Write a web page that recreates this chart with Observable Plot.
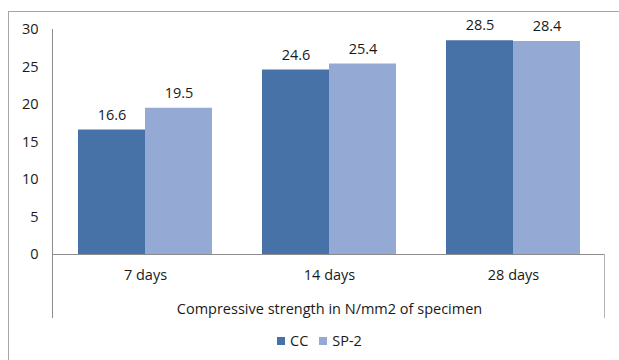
<!DOCTYPE html>
<html><head><meta charset="utf-8">
<script src="https://cdn.jsdelivr.net/npm/d3@7"></script>
<script src="https://cdn.jsdelivr.net/npm/@observablehq/plot@0.6"></script>
<style>
body{margin:0;background:#fff;width:619px;height:360px;overflow:hidden;font-family:"Open Sans",sans-serif;color:#1a1a1a;}
#wrap{position:relative;width:619px;height:360px;}
#border{position:absolute;left:8px;top:11px;width:700px;height:400px;border-left:1.5px solid #a6a6a6;border-top:1.5px solid #a6a6a6;}
#chart{position:absolute;left:0;top:0;}
#legend{position:absolute;top:331px;left:277px;display:flex;align-items:center;font-size:14.5px;line-height:20px;}
.sw{display:inline-block;width:8px;height:8px;margin-right:5px;}
.item{display:flex;align-items:center;margin-right:11px;}
</style></head>
<body><div id="wrap"><div id="border"></div><div id="chart"></div><div id="legend"></div></div>
<script>
const categories = ["7 days", "14 days", "28 days"];
const series = ["CC", "SP-2"];
const ccValues = [16.6, 24.6, 28.5];
const sp2Values = [19.5, 25.4, 28.4];
const yTicks = [0, 5, 10, 15, 20, 25, 30];
const colors = ["#4672A8", "#94A9D3"];
const xLabel = "Compressive strength in N/mm2 of specimen";

const data = categories.flatMap((c, i) => [
  {cat: c, series: series[0], value: ccValues[i]},
  {cat: c, series: series[1], value: sp2Values[i]}
]);

const W = 619, H = 330, ML = 52, MR = 14, MT = 29, MB = 76;
const plot = Plot.plot({
  width: W, height: H, marginLeft: ML, marginRight: MR, marginTop: MT, marginBottom: MB,
  style: {fontFamily: "'Open Sans', sans-serif", fontSize: "14.5px", color: "#1a1a1a", background: "transparent", overflow: "visible"},
  fx: {domain: categories, padding: 0, label: xLabel, labelAnchor: "center", labelOffset: 59, tickSize: 0, tickPadding: 15},
  x: {domain: series, paddingInner: 0, paddingOuter: 0.37, axis: null},
  y: {domain: [0, 30], ticks: yTicks, tickSize: 0, tickPadding: 15, label: null},
  color: {domain: series, range: colors},
  marks: [
    Plot.barY(data, {fx: "cat", x: "series", y: "value", fill: "series"}),
    Plot.ruleY([0], {stroke: "#8c8c8c"}),
    Plot.text(data, {fx: "cat", x: "series", y: "value", text: d => d.value.toFixed(1), dy: -15, fill: "#1a1a1a", fontSize: 14.5})
  ]
});
document.getElementById("chart").appendChild(plot);

// axis frame lines derived from scale ranges
const ys = plot.scale("y");
const svg = d3.select(plot);
const yBase = ys.range[0], yTop = ys.range[1];
const yExt = yBase + 64;
svg.append("line").attr("x1", ML + 0.5).attr("x2", ML + 0.5).attr("y1", yTop).attr("y2", yExt).attr("stroke", "#8c8c8c");
svg.append("line").attr("x1", W - MR - 0.5).attr("x2", W - MR - 0.5).attr("y1", yBase).attr("y2", yExt).attr("stroke", "#b4b4b4");

const leg = document.getElementById("legend");
series.forEach((s, i) => {
  const it = document.createElement("div"); it.className = "item";
  const sw = document.createElement("span"); sw.className = "sw"; sw.style.background = colors[i];
  const t = document.createElement("span"); t.textContent = s;
  it.appendChild(sw); it.appendChild(t); leg.appendChild(it);
});
</script></body></html>
